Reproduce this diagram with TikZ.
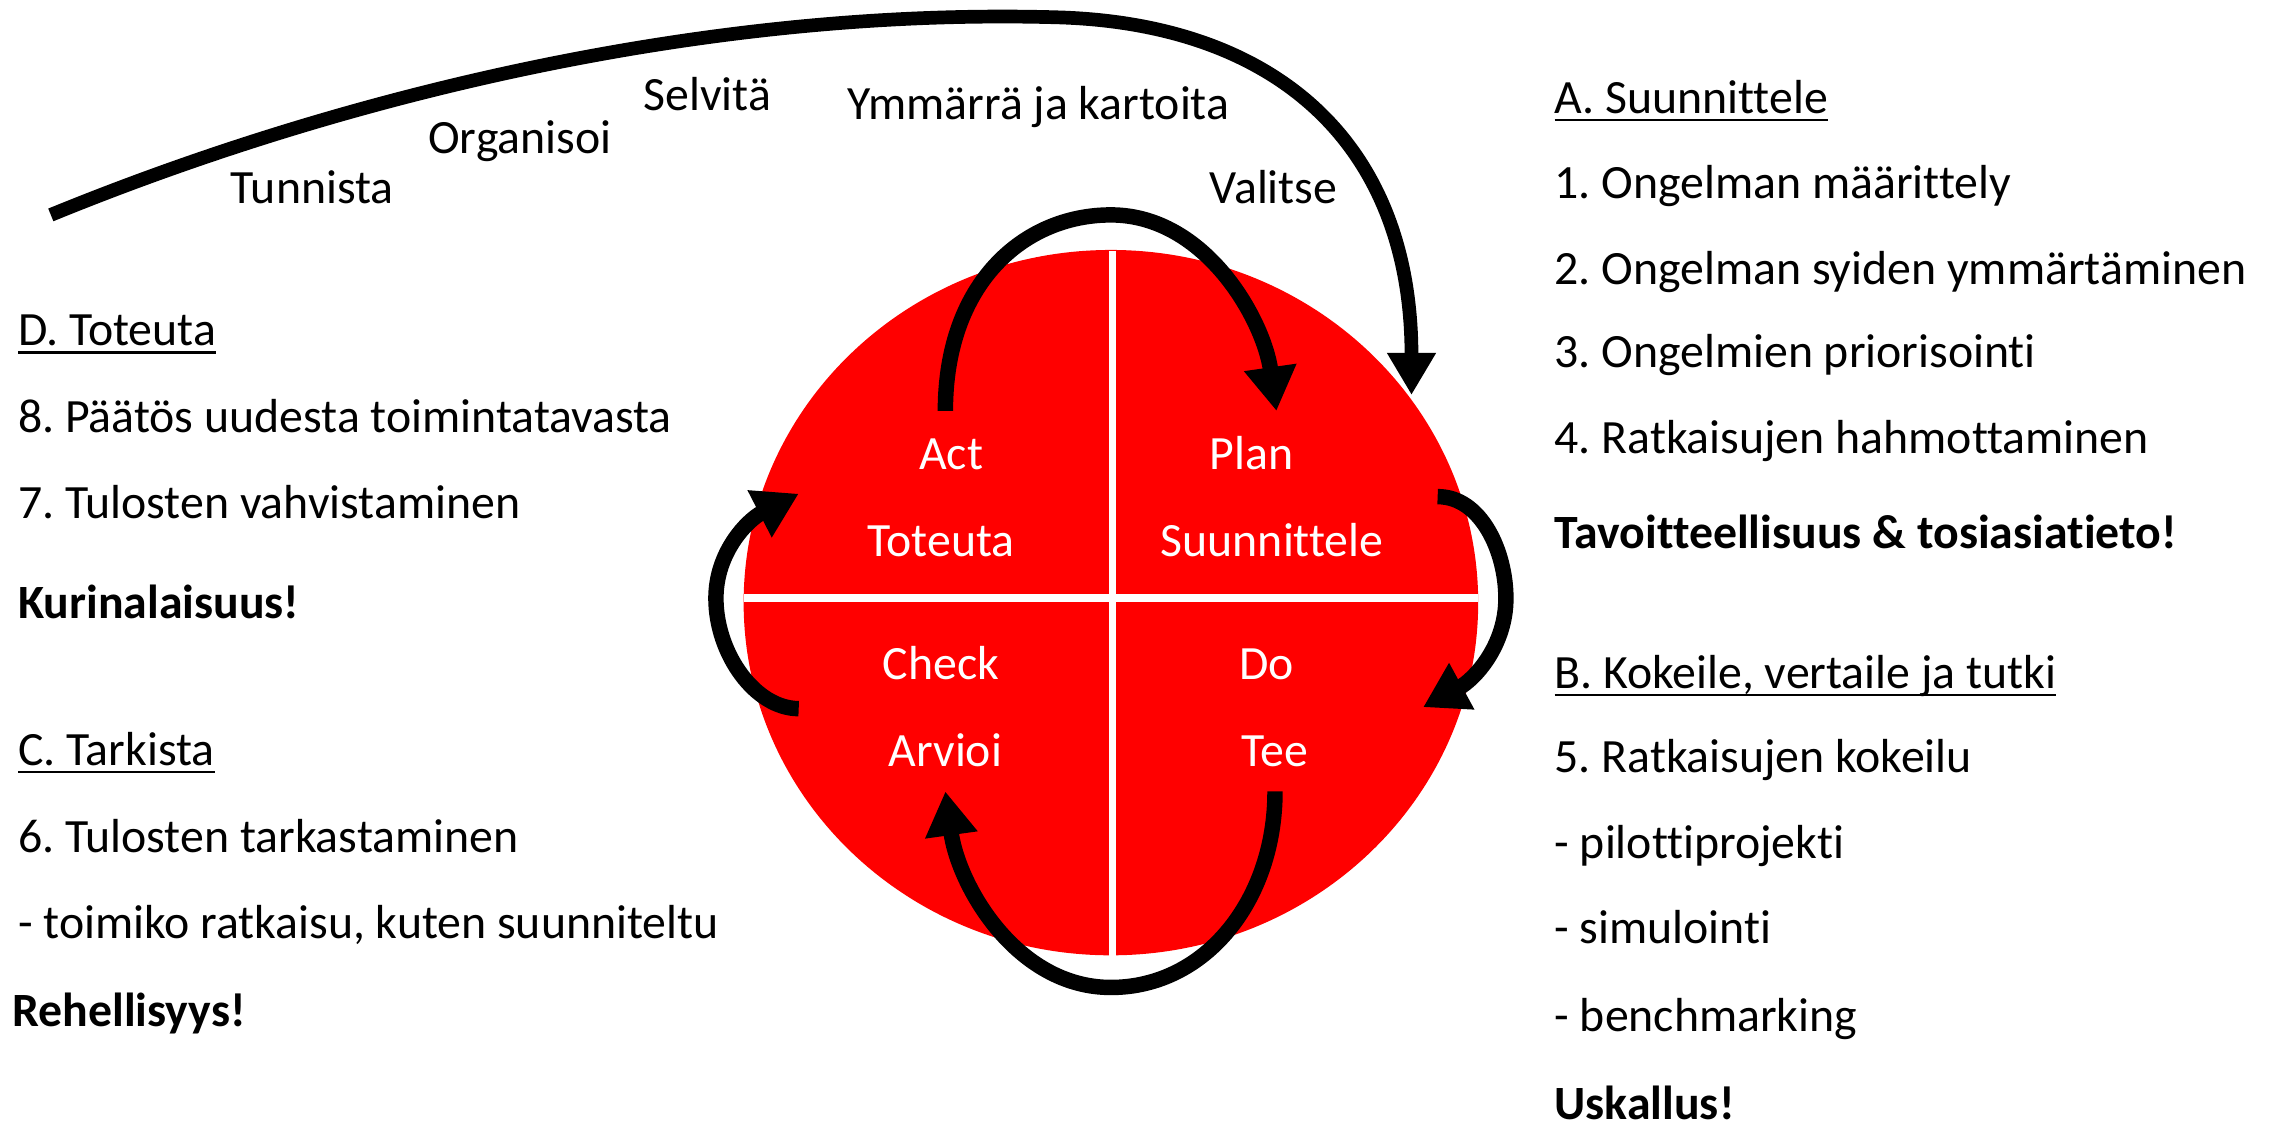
\documentclass[tikz,border=0pt]{standalone}
\usepackage{fontspec}
\setmainfont{Carlito}[Ligatures={NoCommon}]
\usetikzlibrary{arrows.meta}
\newcommand{\ulin}[1]{\setbox0=\hbox{#1}\rlap{\rule[-2.3pt]{\wd0}{0.8pt}}\box0}
\tikzset{
  txt/.style={anchor=base west, inner sep=0pt, font=\fontsize{13.6}{16}\selectfont\frenchspacing},
  word/.style={anchor=base, inner sep=0pt, font=\fontsize{13.6}{16}\selectfont},
  quad/.style={anchor=base, inner sep=0pt, text=white, font=\fontsize{13.6}{16}\selectfont},
  cyc/.style={line width=4.4pt, -{Triangle[length=0.44cm,width=0.5cm]}},
  bigarr/.style={line width=3.9pt, -{Triangle[length=0.42cm,width=0.46cm]}},
}
\begin{document}
\begin{tikzpicture}[x=0.01452cm,y=-0.01452cm]
\useasboundingbox (0,0) rectangle (1568,776);
%ympyra
\fill[red] (765,415) ellipse [x radius=3.674cm, y radius=3.528cm];
\draw[white,line width=2.2pt] (766,173) -- (766,658);
\draw[white,line width=2.2pt] (512,412) -- (1018,412);

\node[quad] (act) at (655,323) {Act};
\node[quad] (actfi) at (648,383) {Toteuta};
\node[quad] (plan) at (862,323) {Plan};
\node[quad] (planfi) at (876,383) {Suunnittele};
\node[quad] (check) at (648,468) {Check};
\node[quad] (checkfi) at (651,528) {Arvioi};
\node[quad] (do) at (872,468) {Do};
\node[quad] (dofi) at (878,528) {Tee};

%nuolet
\coordinate (actS) at (651,283);
\coordinate (planE) at (879,283);
\coordinate (planS) at (990,342);
\coordinate (doE) at (980,487);
\coordinate (doS) at (878,545);
\coordinate (checkE) at (651,545);
\coordinate (checkS) at (550,488);
\coordinate (actE) at (550,340);
\coordinate (bigS) at (35,148);
\coordinate (bigE) at (972,272);

\draw[cyc] (actS) .. controls (651,195) and (705,148) .. (765,148)
  .. controls (830,148) and (870,220) .. (planE);
\draw[cyc] (planS) .. controls (1020,342) and (1037,380) .. (1037,412)
  .. controls (1037,445) and (1015,468) .. (doE);
\draw[cyc] (doS) .. controls (878,620) and (830,680) .. (765,680)
  .. controls (700,680) and (660,610) .. (checkE);
\draw[cyc] (checkS) .. controls (520,488) and (493,450) .. (493,412)
  .. controls (493,380) and (515,358) .. (actE);
\draw[bigarr] (bigS) .. controls (250,60) and (500,5) .. (730,12)
  .. controls (880,17) and (972,100) .. (bigE);

%ylarivi
\node[word] (tunnista) at (215,140) {Tunnista};
\node[word] (organisoi) at (358,106) {Organisoi};
\node[word] (selvita) at (487,76) {Selvitä};
\node[word] (ymmarra) at (715,82) {Ymmärrä ja kartoita};
\node[word] (valitse) at (877,140) {Valitse};

%vasen
\node[txt] (dHead) at (12,238) {\ulin{D. Toteuta}};
\node[txt] (d8) at (12,298) {8. Päätös uudesta toimintatavasta};
\node[txt] (d7) at (12,357) {7. Tulosten vahvistaminen};
\node[txt] (dBold) at (12,426) {\textbf{Kurinalaisuus!}};
\node[txt] (cHead) at (12,527) {\ulin{C. Tarkista}};
\node[txt] (c6) at (12,587) {6. Tulosten tarkastaminen};
\node[txt] (c6a) at (12,646) {- toimiko ratkaisu, kuten suunniteltu};
\node[txt] (cBold) at (8,707) {\textbf{Rehellisyys!}};

%oikea
\node[txt] (aHead) at (1070,78) {\ulin{A. Suunnittele}};
\node[txt] (a1) at (1070,137) {1. Ongelman määrittely};
\node[txt] (a2) at (1070,196) {2. Ongelman syiden ymmärtäminen};
\node[txt] (a3) at (1070,253) {3. Ongelmien priorisointi};
\node[txt] (a4) at (1070,312) {4. Ratkaisujen hahmottaminen};
\node[txt] (aBold) at (1070,378) {\textbf{Tavoitteellisuus \& tosiasiatieto!}};
\node[txt] (bHead) at (1070,474) {\ulin{B. Kokeile, vertaile ja tutki}};
\node[txt] (b5) at (1070,532) {5. Ratkaisujen kokeilu};
\node[txt] (b5a) at (1070,591) {- pilottiprojekti};
\node[txt] (b5b) at (1070,650) {- simulointi};
\node[txt] (b5c) at (1070,710) {- benchmarking};
\node[txt] (bBold) at (1070,771) {\textbf{Uskallus!}};
\end{tikzpicture}
\end{document}
